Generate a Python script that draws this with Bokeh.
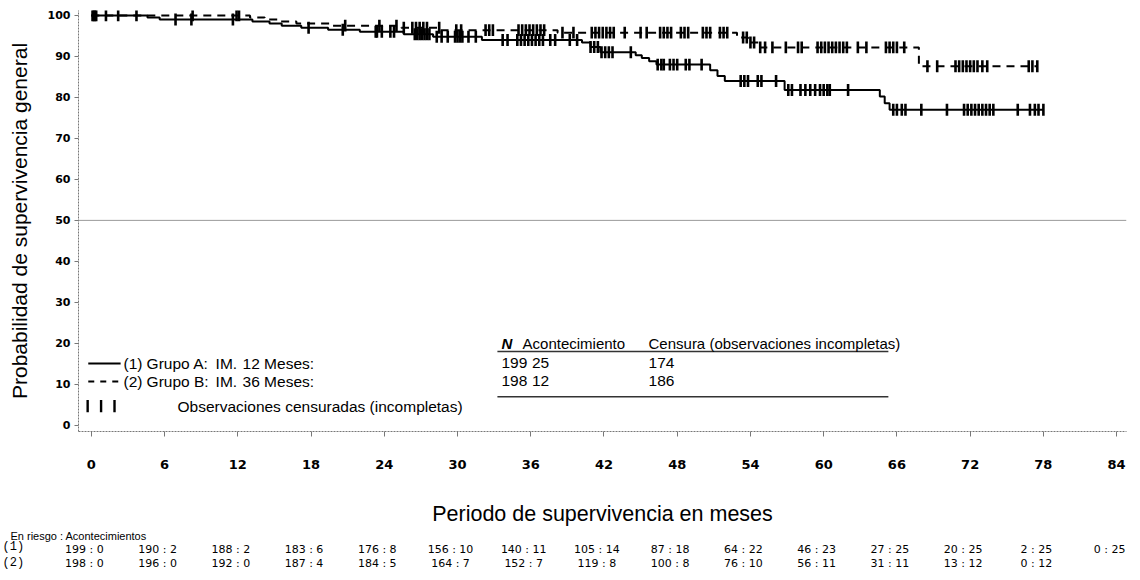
import numpy as np
from bokeh.plotting import figure
from bokeh.models import Range1d, Label, Span, FixedTicker, Title, LinearAxis
from bokeh.embed import file_html
from bokeh.resources import INLINE

# ---------------- data ----------------
month_ticks = [0, 6, 12, 18, 24, 30, 36, 42, 48, 54, 60, 66, 72, 78, 84]
pct_ticks = [0, 10, 20, 30, 40, 50, 60, 70, 80, 90, 100]

# Group A (solid): step times (months) and survival (%)
a_time = [0, 4.6, 5.6, 13.2, 14.6, 15.6, 17.2, 19.4, 22.0, 25.6, 28.0, 32.0,
          40.2, 40.9, 41.7, 44.6, 45.1, 45.7, 46.3, 50.7, 51.3, 51.9, 56.8,
          64.6, 65.0, 65.4]
a_surv = [100, 99.5, 99.0, 98.5, 98.0, 97.5, 97.0, 96.5, 96.0, 95.4, 94.8, 94.0,
          93.4, 92.3, 91.0, 90.3, 89.6, 88.8, 88.0, 86.6, 85.2, 84.0, 81.8,
          80.2, 78.6, 77.0]
# Group B (dashed)
b_time = [0, 13.0, 14.2, 15.4, 16.8, 19.5, 25.4, 28.6, 38.2, 52.9, 53.8, 54.7, 67.8]
b_surv = [100, 99.5, 99.0, 98.5, 98.0, 97.5, 97.0, 96.4, 95.8, 94.6, 93.4, 92.2, 87.6]

# censored observations (months)
a_cens = [0.1, 0.3, 1.2, 3.7, 6.9, 8.2, 11.6, 17.8, 20.6, 23.3, 23.4, 23.8, 24.5, 24.8,
          26.5, 26.7, 26.9, 27.1, 27.3, 27.5, 27.7, 28.3, 28.7, 29.2, 29.8, 30.0,
          30.2, 30.4, 30.9, 31.5, 33.7, 34.1, 34.9, 35.2, 35.5, 35.8, 36.1, 36.4,
          36.7, 37.0, 37.6, 38.0, 39.2, 39.8, 40.9, 41.2, 41.5, 41.8, 42.1, 42.4,
          42.7, 44.2, 46.4, 46.7, 46.9, 47.4, 47.7, 48.0, 48.7, 49.0, 50.0, 53.2,
          53.5, 53.8, 54.6, 54.9, 56.1, 57.1, 57.4, 58.1, 58.5, 58.9, 59.3, 59.7,
          60.0, 60.3, 60.5, 62.0, 65.7, 66.0, 66.4, 66.7, 68.0, 70.1, 71.5, 71.8,
          72.1, 72.4, 72.7, 73.0, 73.3, 73.6, 73.9, 75.9, 76.9, 77.3, 77.6, 78.0]
b_cens = [0.2, 0.4, 2.2, 8.3, 11.9, 12.1, 20.8, 23.6, 25.0, 25.6, 26.3, 26.6, 26.9,
          27.2, 27.5, 28.5, 29.9, 30.3, 32.3, 32.6, 32.9, 35.0, 35.3, 35.6, 35.9,
          36.2, 36.5, 36.8, 37.1, 38.6, 39.5, 41.0, 41.3, 41.6, 41.9, 42.2, 42.5,
          42.8, 43.7, 45.0, 45.5, 46.6, 46.9, 47.2, 47.5, 48.3, 48.6, 48.9, 50.1,
          50.4, 50.7, 51.5, 51.8, 52.1, 53.4, 53.7, 54.0, 54.3, 54.8, 55.2, 55.8,
          56.9, 57.9, 58.2, 59.5, 59.8, 60.1, 60.4, 60.7, 61.0, 61.3, 61.6, 61.9,
          62.8, 63.5, 65.1, 65.4, 65.7, 66.0, 66.6, 68.5, 69.3, 70.8, 71.1, 71.4,
          71.7, 72.0, 72.3, 72.6, 73.0, 73.4, 76.8, 77.1, 77.5]

# at risk : events table
risk_a = ["199 : 0", "190 : 2", "188 : 2", "183 : 6", "176 : 8", "156 : 10", "140 : 11",
          "105 : 14", "87 : 18", "64 : 22", "46 : 23", "27 : 25", "20 : 25", "2 : 25", "0 : 25"]
risk_b = ["198 : 0", "196 : 0", "192 : 0", "187 : 4", "184 : 5", "164 : 7", "152 : 7",
          "119 : 8", "100 : 8", "76 : 10", "56 : 11", "31 : 11", "13 : 12", "0 : 12"]

legend_n = ["199", "198"]
legend_events = ["25", "12"]
legend_cens = ["174", "186"]
legend_group = ["Grupo A:", "Grupo B:"]
legend_months = ["12 Meses:", "36 Meses:"]

# ---------------- main figure ----------------
LEFT, RIGHT, TOP = 78, 6, 10
W, H = 1132, 576
PX_PER_MONTH = 12.206
X0 = -1.05
X1 = X0 + (W - LEFT - RIGHT) / PX_PER_MONTH
Y0, Y1 = -1.5, 101.2
FRAME_BOTTOM = 431
FONT = "Liberation Sans"
MONO = "Liberation Mono"

p = figure(width=W, height=H, x_range=Range1d(X0, X1), y_range=Range1d(Y0, Y1),
           output_backend="svg", toolbar_location=None,
           min_border_left=LEFT, min_border_right=RIGHT, min_border_top=TOP,
           min_border_bottom=H - FRAME_BOTTOM)
p.outline_line_color = None
p.grid.visible = False
p.background_fill_color = "white"

p.xaxis.ticker = FixedTicker(ticks=month_ticks)
p.yaxis.ticker = FixedTicker(ticks=pct_ticks)
for ax in (p.xaxis, p.yaxis):
    ax.axis_line_color = "#777777"
    ax.axis_line_dash = "2 1"
    ax.major_tick_line_color = "#777777"
    ax.minor_tick_line_color = None
    ax.major_tick_in = 0
    ax.major_label_text_color = "black"
    ax.major_label_text_font = "DejaVu Sans"
    ax.major_label_text_font_style = "bold"
    ax.axis_label_text_font = FONT
    ax.axis_label_text_font_style = "normal"
    ax.axis_label_text_color = "black"

p.xaxis.major_tick_out = 5
p.xaxis.major_label_standoff = 23
p.xaxis.major_label_text_font_size = "13px"
p.xaxis.axis_label = "Periodo de supervivencia en meses"
p.xaxis.axis_label_standoff = 30
p.xaxis.axis_label_text_font_size = "21.5px"

p.yaxis.major_tick_out = 4
p.yaxis.major_label_standoff = 4
p.yaxis.major_label_text_font_size = "11px"
p.yaxis.axis_label = "Probabilidad de supervivencia general"
p.yaxis.axis_label_standoff = 14
p.yaxis.axis_label_text_font_size = "21px"

p.add_layout(Span(location=50, dimension="width", line_color="#9a9a9a", line_width=1))


def step_value(times, survs, t):
    idx = np.searchsorted(np.asarray(times), np.asarray(t), side="right") - 1
    return np.asarray(survs)[idx]


a_end = max(a_cens)
b_end = max(b_cens)
p.step(x=b_time + [b_end], y=b_surv + [b_surv[-1]], mode="after",
       line_color="black", line_width=2, line_dash="8 6")
p.step(x=a_time + [a_end], y=a_surv + [a_surv[-1]], mode="after",
       line_color="black", line_width=2)

TICK = 1.45
ya = step_value(a_time, a_surv, a_cens)
yb = step_value(b_time, b_surv, b_cens)
p.segment(x0=a_cens, x1=a_cens, y0=ya - TICK, y1=ya + TICK, line_color="black", line_width=2.6)
p.segment(x0=b_cens, x1=b_cens, y0=yb - TICK, y1=yb + TICK, line_color="black", line_width=2.6)

# ---------------- legend table (inside plot) ----------------
ROW_FS = "15.5px"
HEAD_FS = "15px"
row_y = [15.1, 10.7]
p.segment(x0=[-0.25, -0.25], x1=[2.4, 2.4], y0=row_y, y1=row_y, line_color="black",
          line_width=2, line_dash=["solid", "dashed"])
for i, ry in enumerate(row_y):
    items = [(2.64, "(%d)" % (i + 1)), (4.53, legend_group[i]), (10.18, "IM."),
             (12.39, legend_months[i]), (33.6, legend_n[i]), (36.1, legend_events[i]),
             (45.65, legend_cens[i])]
    for x, t in items:
        p.add_layout(Label(x=x, y=ry, text=t, text_baseline="middle", text_font=FONT,
                           text_font_size=ROW_FS, text_color="black"))

HEADER_Y = 20.0
p.add_layout(Label(x=33.6, y=HEADER_Y, text="N", text_baseline="middle", text_font=FONT,
                   text_font_size=HEAD_FS, text_font_style="bold italic", text_color="black"))
p.add_layout(Label(x=35.33, y=HEADER_Y, text="Acontecimiento", text_baseline="middle",
                   text_font=FONT, text_font_size=HEAD_FS, text_color="black"))
p.add_layout(Label(x=45.65, y=HEADER_Y, text="Censura (observaciones incompletas)",
                   text_baseline="middle", text_font=FONT, text_font_size=HEAD_FS,
                   text_color="black"))
p.segment(x0=[33.27, 33.27], x1=[65.3, 65.3], y0=[18.0, 7.0], y1=[18.0, 7.0],
          line_color="#333333", line_width=1.5)

OBS_Y = 4.7
leg_ticks = [-0.3, 0.8, 1.9]
p.segment(x0=leg_ticks, x1=leg_ticks, y0=[OBS_Y - 1.5] * 3, y1=[OBS_Y + 1.5] * 3,
          line_color="black", line_width=2.4)
p.add_layout(Label(x=7.06, y=OBS_Y, text="Observaciones censuradas (incompletas)",
                   text_baseline="middle", text_font=FONT, text_font_size=ROW_FS,
                   text_color="black"))

# ---------------- risk table below the month axis ----------------
p.add_layout(Title(text="En riesgo : Acontecimientos", align="left", offset=-68,
                   standoff=-2, text_font=FONT, text_font_size="11px",
                   text_font_style="normal", text_color="black"), "below")

shift = 7 / PX_PER_MONTH
p.extra_x_ranges = {"risk": Range1d(X0 + shift, X1 + shift)}
RISK_FS = 11
for tag, vals, gap in (("(1)", risk_a, -1), ("(2)", risk_b, -5)):
    p.add_layout(Title(text=tag, align="left", offset=-76, standoff=gap,
                       vertical_align="top", text_font=MONO, text_font_size="12px",
                       text_font_style="normal", text_color="black"), "below")
    rax = LinearAxis(x_range_name="risk",
                     ticker=FixedTicker(ticks=month_ticks[:len(vals)]),
                     major_label_overrides={m: t for m, t in zip(month_ticks, vals)})
    rax.axis_line_color = None
    rax.major_tick_line_color = None
    rax.minor_tick_line_color = None
    rax.major_tick_out = 0
    rax.major_tick_in = 0
    rax.major_label_standoff = -13
    rax.major_label_text_font = "DejaVu Sans"
    rax.major_label_text_font_size = "%dpx" % RISK_FS
    rax.major_label_text_color = "black"
    p.add_layout(rax, "below")

open("out.html", "w").write(file_html(p, INLINE))
